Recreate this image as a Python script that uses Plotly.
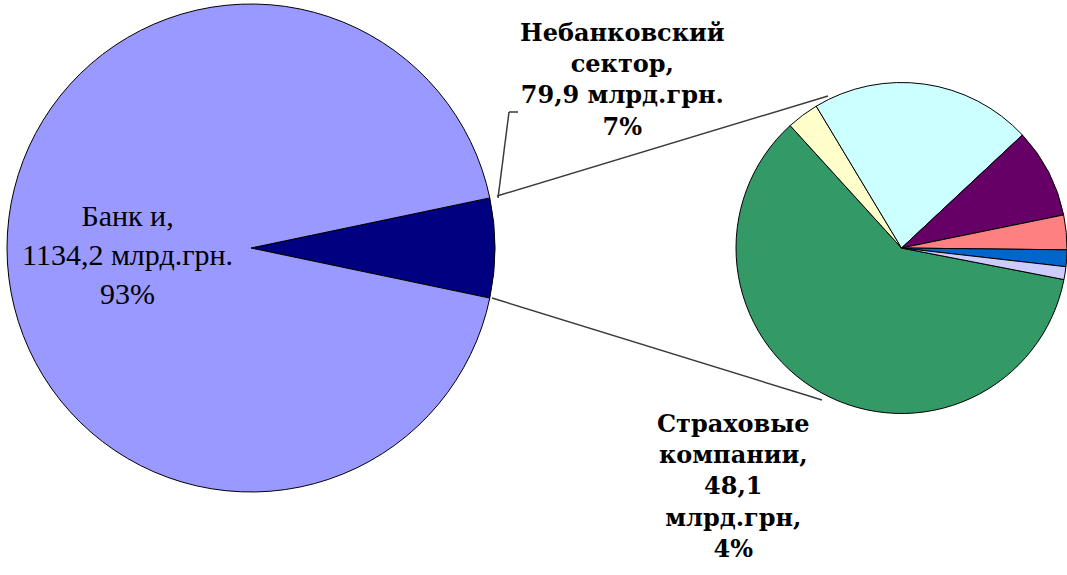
import plotly.graph_objects as go

W, H = 1067, 575

# ---- data ----
main_labels = ["Небанковский сектор", "Банки"]
main_values = [79.9, 1134.2]
main_pct = ["7%", "93%"]
main_colors = ["#000080", "#9999FF"]

sub_labels = ["Страховые компании", "Прочие 1", "Прочие 2", "Прочие 3",
              "Прочие 4", "Прочие 5", "Прочие 6"]
sub_values = [48.1, 2.5, 17.3, 7.0, 2.7, 1.3, 1.0]
sub_pct_ins = "4%"
sub_colors = ["#339966", "#FFFFCC", "#CCFFFF", "#660066",
              "#FF8080", "#0066CC", "#CCCCFF"]


def px(x):
    return x / W


def py(y):
    return 1 - y / H


fig = go.Figure()

# left pie: center (251,248) r 244
fig.add_trace(go.Pie(
    labels=main_labels, values=main_values, sort=False, direction="clockwise",
    rotation=90 - 360 * main_values[0] / sum(main_values) / 2,
    marker=dict(colors=main_colors, line=dict(color="black", width=1)),
    textinfo="none", hoverinfo="label+value+percent", showlegend=False,
    domain=dict(x=[px(7), px(495)], y=[py(492), py(4)]),
))

# right pie: center (902,248) r 166
fig.add_trace(go.Pie(
    labels=sub_labels, values=sub_values, sort=False, direction="clockwise",
    rotation=101,
    marker=dict(colors=sub_colors, line=dict(color="black", width=1)),
    textinfo="none", hoverinfo="label+value+percent", showlegend=False,
    domain=dict(x=[px(736), px(1067)], y=[py(414), py(82)]),
))

line_style = dict(color="#3a3a3a", width=1.5)
shapes = [
    dict(type="line", xref="paper", yref="paper", x0=px(497), y0=py(196), x1=px(828), y1=py(96), line=line_style),
    dict(type="line", xref="paper", yref="paper", x0=px(492), y0=py(298), x1=px(822), y1=py(400), line=line_style),
    dict(type="line", xref="paper", yref="paper", x0=px(498), y0=py(198), x1=px(509), y1=py(112), line=line_style),
    dict(type="line", xref="paper", yref="paper", x0=px(509), y0=py(112), x1=px(518), y1=py(112), line=line_style),
]

bold_font = dict(family="DejaVu Serif", size=24, color="black")
annotations = [
    dict(xref="paper", yref="paper", x=px(127), y=py(254), showarrow=False,
         xanchor="center", yanchor="middle",
         text=f"Банк и,<br>{str(main_values[1]).replace('.', ',')} млрд.грн.<br>{main_pct[1]}",
         font=dict(family="Liberation Serif", size=30, color="black"), align="center"),
    dict(xref="paper", yref="paper", x=px(622), y=py(80), showarrow=False,
         xanchor="center", yanchor="middle",
         text=f"<b>Небанковский<br>сектор,<br>{str(main_values[0]).replace('.', ',')} млрд.грн.<br>{main_pct[0]}</b>",
         font=bold_font, align="center"),
    dict(xref="paper", yref="paper", x=px(733), y=py(486), showarrow=False,
         xanchor="center", yanchor="middle",
         text=f"<b>Страховые<br>компании,<br>{str(sub_values[0]).replace('.', ',')}<br>млрд.грн,<br>{sub_pct_ins}</b>",
         font=bold_font, align="center"),
]

fig.update_layout(
    width=W, height=H, margin=dict(l=0, r=0, t=0, b=0),
    paper_bgcolor="white", plot_bgcolor="white",
    shapes=shapes, annotations=annotations, showlegend=False,
)

fig.write_html("out.html", config={"displayModeBar": False},
               post_script="document.body.style.margin='0';")
